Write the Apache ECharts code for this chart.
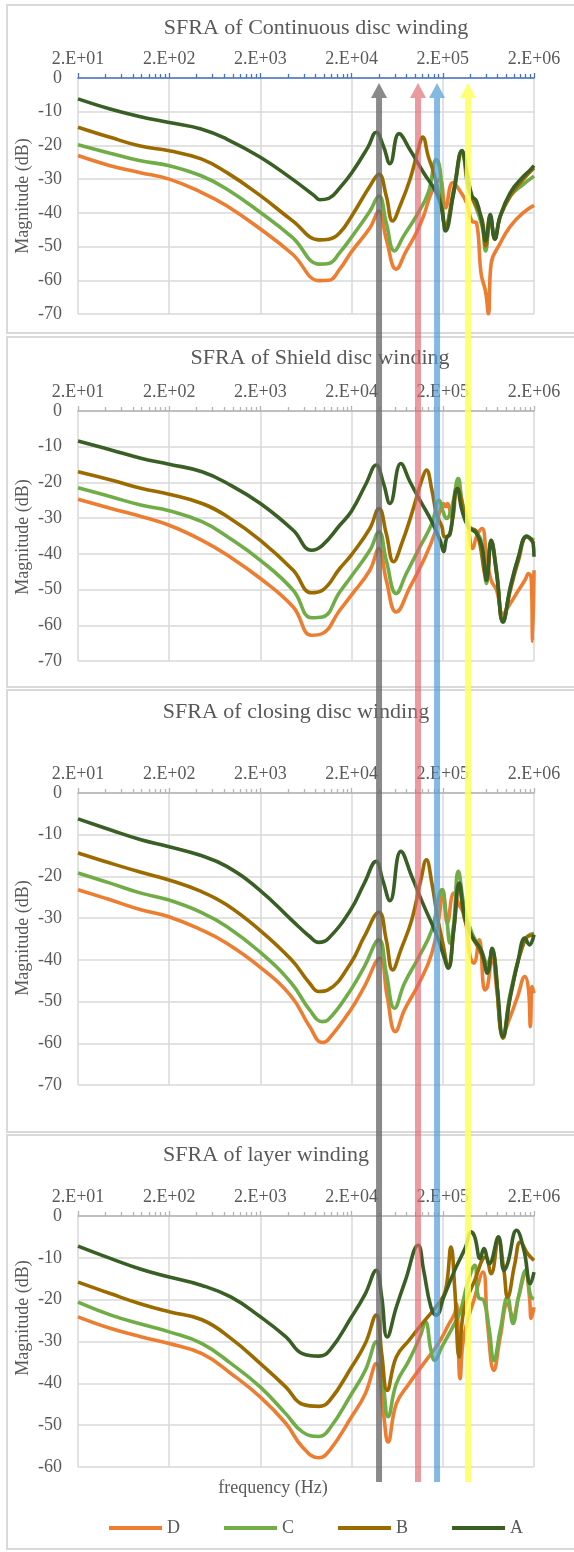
<!DOCTYPE html>
<html><head><meta charset="utf-8">
<script src="https://cdn.jsdelivr.net/npm/echarts@6/dist/echarts.min.js"></script>
<style>html,body{margin:0;padding:0;background:#fff}#c{width:574px;height:1552px}</style>
</head><body><div id="c"></div>
<script>
const panelTitles = ['SFRA of Continuous disc winding','SFRA of Shield disc winding','SFRA of closing disc winding','SFRA of layer winding'];
const seriesNames = ['D','C','B','A'];
const seriesColors = ['#ED7D31','#70AD47','#9C6B00','#3A5F24'];
const majorTicks = [20,200,2000,20000,200000,2000000];
const tickLabels = ['2.E+01','2.E+02','2.E+03','2.E+04','2.E+05','2.E+06'];
const minorTicks = [40,60,80,100,120,140,160,180,400,600,800,1000,1200,1400,1600,1800,4000,6000,8000,10000,12000,14000,16000,18000,40000,60000,80000,100000,120000,140000,160000,180000,400000,600000,800000,1000000,1200000,1400000,1600000,1800000];
const yMins = [-70,-70,-70,-60];
const yTicksInterval = 10;
const yAxisName = 'Magnitude (dB)';
const xAxisName = 'frequency (Hz)';
const markerFreqs = [40000,107000,173000,378000];

// Continuous disc winding
const cont_D = [[20,-23],[45,-26],[94,-28],[200,-30],[448,-33.9],[853,-37.9],[2000,-44.8],[4480,-52.2],[8930,-60.1],[11250,-60],[14830,-56.7],[20000,-51.5],[31700,-44.5],[39900,-39.5],[47980,-47.8],[61800,-56.7],[77800,-51.8],[102600,-45.9],[123300,-40.9],[144900,-35],[170200,-31],[186700,-30],[214300,-38.5],[257600,-31],[317000,-34],[364000,-37],[417900,-42.5],[468800,-43],[526000,-58],[590200,-63.5],[632500,-70],[677700,-55],[853100,-49],[1099000,-44],[1517000,-40],[2000000,-37.8]];
const cont_C = [[20,-19.8],[45,-22.3],[94,-24.5],[200,-26],[448,-29],[853,-32.9],[2000,-39.9],[4480,-47.3],[8930,-55.2],[11250,-55],[14830,-51.8],[20000,-47.2],[31700,-39.5],[39900,-35],[47980,-42.9],[59020,-51.3],[74300,-46.9],[102600,-40.9],[138400,-34.1],[170200,-24.2],[186700,-27.2],[214300,-43.9],[263600,-34],[324400,-22.2],[381200,-33],[427600,-36],[538300,-43.9],[590200,-51.3],[662300,-41.9],[743100,-46.9],[853100,-41],[1099000,-35],[1517000,-31.6],[2000000,-29.1]];
const cont_B = [[20,-14.6],[45,-17.6],[94,-20.1],[200,-21.6],[448,-24],[853,-28],[2000,-34.9],[4480,-42.3],[8930,-48],[11250,-47.8],[14830,-45.9],[20000,-41],[31700,-32.1],[39900,-28.6],[47980,-35],[56370,-42.4],[67760,-38],[87300,-30.1],[107400,-21.3],[120500,-17.5],[138400,-23.2],[158900,-28.1],[186700,-36],[214300,-43.9],[263600,-33],[324400,-21.8],[381200,-32],[427600,-36],[538300,-41.9],[590200,-49.8],[662300,-41],[743100,-47.8],[853100,-41],[1099000,-35],[1517000,-30.1],[2000000,-26.7]];
const cont_A = [[20,-6.2],[45,-9.2],[94,-11.4],[200,-13.2],[448,-15.1],[853,-18.1],[2000,-23.5],[4480,-30],[7780,-34.9],[8930,-36.1],[11250,-35.7],[14830,-32.6],[20000,-28.2],[30270,-20.5],[37240,-16.1],[44770,-20.3],[52610,-25.4],[66220,-16.5],[87300,-21.3],[123300,-28.1],[170200,-34.1],[195500,-39],[214300,-45.4],[263600,-34],[324400,-21.5],[364000,-27.2],[417900,-35],[468800,-36.5],[538300,-42.9],[590200,-48.3],[662300,-40.5],[743100,-47.8],[853100,-41],[1099000,-34],[1517000,-29.3],[1824000,-27.2],[2000000,-26]];

// Shield disc winding
const shield_D = [[20,-24.7],[46,-27.3],[100,-29.6],[200,-32],[458,-36.2],[873,-40.4],[2000,-46.9],[4580,-54.9],[7260,-62.8],[9570,-62.3],[14830,-55.8],[20000,-51.5],[31700,-44.6],[39900,-38.5],[47980,-47.4],[61800,-56.3],[87300,-49.3],[123300,-41.8],[162600,-34.3],[186700,-27.8],[204700,-25.9],[214300,-26.8],[224400,-25.9],[251800,-30.1],[289100,-20.5],[324400,-25.9],[364000,-29.6],[427600,-38.5],[468800,-35.2],[538300,-32.9],[604000,-40.8],[677700,-47.4],[778000,-50.2],[914100,-56.7],[1099000,-53.9],[1352000,-50.2],[1589000,-47.4],[1742000,-45.5],[1867000,-47],[1930000,-64.5],[2000000,-44.6]];
const shield_C = [[20,-21.5],[46,-24],[100,-26.4],[200,-27.9],[458,-31],[873,-35.2],[2000,-41.8],[4580,-50.2],[7260,-57.9],[9570,-57.7],[14830,-50.7],[20000,-46.2],[31700,-39],[39900,-33.8],[47980,-41.8],[61800,-51.1],[79620,-45.5],[112500,-38],[151700,-31.5],[182400,-25],[204700,-28.7],[219300,-30.1],[251800,-26.8],[295800,-18.9],[324400,-25],[381200,-32],[468800,-33.8],[538300,-37.1],[604000,-48.3],[677700,-36.2],[778000,-44.6],[914100,-59.1],[1099000,-49.7],[1352000,-40.8],[1664000,-35.2],[2000000,-36.2]];
const shield_B = [[20,-17],[46,-19.3],[100,-21.7],[200,-23.3],[458,-25.9],[873,-29.6],[2000,-36.2],[4580,-44.6],[7260,-50.9],[9570,-50.2],[14830,-44.1],[20000,-40.2],[31700,-32.9],[39900,-27.3],[47980,-34.3],[57680,-42.2],[70950,-37.1],[91420,-28.7],[117800,-19.3],[132100,-16.5],[151700,-22.1],[170200,-28.7],[195500,-32.4],[209400,-35.2],[240400,-34.3],[289100,-21.7],[381200,-32.4],[468800,-33.8],[604000,-46.5],[677700,-36.7],[778000,-45.5],[914100,-58.6],[1099000,-50.2],[1352000,-41.8],[1664000,-35.2],[2000000,-37.1]];
const shield_A = [[20,-8.4],[46,-10.9],[100,-13.3],[200,-14.9],[458,-17],[873,-20.3],[2000,-25.9],[4580,-33.4],[7260,-39],[9570,-37.6],[14830,-32],[20000,-28],[28910,-20.3],[37240,-15.1],[44770,-20.3],[52610,-25.9],[69340,-14.7],[87300,-19.8],[112500,-25],[151700,-31],[186700,-36.2],[204700,-39.4],[219300,-35.7],[240400,-34.3],[289100,-21.7],[324400,-27.8],[381200,-32.4],[468800,-34.3],[538300,-38],[604000,-47.4],[677700,-36.2],[778000,-45.5],[914100,-59.1],[1099000,-49.3],[1352000,-40.8],[1664000,-35],[1867000,-36],[1954000,-37],[2000000,-40.8]];

// closing disc winding
const closing_D = [[20,-23.2],[45,-25.6],[98,-28],[195,-29.6],[448,-32.8],[853,-36],[1950,-41.6],[4380,-48.8],[6930,-56],[9570,-59.8],[11000,-59.2],[19550,-52],[27610,-46.4],[40830,-39.6],[49100,-48.8],[60400,-57.2],[76030,-52],[109900,-45.6],[151700,-38.4],[182400,-29.6],[200000,-23.2],[224400,-31.2],[263600,-24],[295800,-26.4],[347600,-29.6],[399000,-39.2],[437600,-40.8],[502400,-35.2],[576800,-47.2],[618000,-46.4],[693500,-39.2],[796200,-48.8],[914100,-57.6],[1099000,-53.6],[1321000,-48.8],[1589000,-44],[1742000,-47.2],[1824000,-56],[1910000,-46.4],[2000000,-48]];
const closing_C = [[20,-19.2],[45,-21.6],[98,-24],[195,-25.6],[448,-28.6],[853,-32],[1950,-38],[4380,-45.6],[6930,-52],[9570,-54.8],[11000,-54.4],[19550,-47.2],[27610,-41.6],[39900,-35.2],[48000,-43.2],[59020,-51.6],[76030,-45.6],[109900,-39.2],[151700,-32.8],[195500,-23.2],[219300,-29.6],[240400,-36],[263600,-31.2],[295800,-18.8],[347600,-28],[417900,-33.6],[526000,-37.6],[618000,-40.8],[693500,-38.4],[914100,-58.4],[1099000,-48],[1589000,-35.2],[2000000,-33.6]];
const closing_B = [[20,-14.4],[45,-16.8],[98,-19],[195,-20.8],[448,-23.6],[853,-26.8],[1950,-32.8],[4380,-40],[6930,-45.6],[8730,-47.6],[11000,-47.2],[19550,-40.8],[27610,-34.4],[39900,-28.6],[47980,-35.2],[56370,-42.4],[69340,-37.6],[91420,-30.4],[115100,-20.8],[132100,-16],[151700,-21.6],[174200,-29.6],[200000,-36],[229600,-41.6],[263600,-32.8],[302700,-22.4],[347600,-30.4],[417900,-34.4],[526000,-38.4],[618000,-42.4],[693500,-37.6],[914100,-58.8],[1099000,-48.8],[1589000,-35.2],[2000000,-34]];
const closing_A = [[20,-6.2],[45,-8.8],[98,-11.2],[195,-12.8],[448,-15],[853,-17.6],[1950,-23.2],[4380,-30.4],[6930,-34.4],[8730,-35.8],[11000,-35],[19550,-28],[27610,-21.6],[37240,-16.4],[43760,-20.8],[52610,-25.8],[69340,-14],[91420,-20],[120500,-26.4],[174200,-34.4],[200000,-38.4],[229600,-42],[263600,-32.8],[302700,-21.6],[347600,-29.6],[417900,-34.4],[526000,-37.6],[618000,-43.2],[693500,-37.2],[796200,-47.2],[914100,-58.4],[1099000,-48.8],[1321000,-40.8],[1589000,-34.8],[1783000,-36.4],[2000000,-34]];

// layer winding
const layer_D = [[20,-24.1],[46,-26.9],[100,-28.9],[200,-30.5],[458,-32.9],[957,-37.7],[2000,-43.3],[3810,-49.6],[5770,-55.2],[8730,-57.8],[11510,-56],[20000,-48],[28250,-42.5],[37240,-35.3],[44770,-47.3],[50240,-54],[61800,-44.9],[85310,-40.1],[123300,-35.3],[178300,-30.5],[235000,-25.7],[269800,-23.3],[282500,-21],[309800,-38.9],[339700,-28.9],[447700,-19.4],[550800,-13.4],[618000,-25.7],[726100,-36.9],[853100,-28.9],[1025600,-21],[1177600,-24.1],[1352000,-19.4],[1626000,-13.8],[1783000,-19.4],[1867000,-24.5],[2000000,-21.8]];
const layer_C = [[20,-20.6],[46,-23.7],[100,-25.9],[200,-27.7],[458,-30.5],[957,-35.3],[2000,-40.9],[3810,-47.3],[5770,-51.6],[8730,-52.7],[11510,-50.8],[20000,-42.5],[28250,-36.9],[37240,-30.1],[44770,-40.9],[50240,-48],[61800,-40.1],[85310,-34.5],[112500,-28.9],[129100,-25.3],[148300,-32.1],[162600,-34.5],[195500,-31.3],[257600,-26.5],[309800,-22.9],[372500,-16.2],[447700,-11.8],[491000,-19.4],[563700,-20.2],[647200,-27.3],[726100,-34.5],[853100,-27.3],[1025600,-19.4],[1177600,-25.7],[1352000,-19.4],[1626000,-13],[1783000,-17.8],[1867000,-19.4],[2000000,-19.8]];
const layer_B = [[20,-15.8],[46,-18.6],[100,-21.1],[200,-22.9],[458,-24.8],[957,-29.3],[2000,-35.3],[3810,-40.9],[5770,-45],[8730,-45.5],[11510,-44.1],[20000,-36.1],[28250,-30.5],[37240,-23.7],[42760,-32.9],[49100,-41.7],[61800,-33.7],[85310,-29.7],[123300,-25.3],[178300,-21],[214300,-17.8],[246100,-7.4],[269800,-17],[302700,-33.7],[339700,-22.5],[447700,-15.4],[590200,-9.8],[677700,-13.8],[814700,-5.8],[935400,-13],[1025600,-19.4],[1233000,-11.4],[1416000,-6.2],[1703000,-9],[2000000,-10.6]];
const layer_A = [[20,-7.2],[46,-10.2],[100,-12.8],[200,-14.6],[458,-16.6],[957,-19.4],[2000,-24.1],[3810,-28.9],[5770,-32.9],[8730,-33.5],[11510,-32.1],[20000,-24.1],[28250,-18.6],[37240,-13],[42760,-19.4],[49100,-28.9],[61800,-21.8],[77800,-15.4],[107400,-7],[123300,-13],[148300,-21.8],[170200,-23.7],[204700,-19.4],[269800,-13],[355700,-7.4],[408400,-3.8],[447700,-5],[514000,-10.2],[563700,-7.8],[647200,-11.4],[814700,-5],[935400,-13],[1025600,-11.4],[1291000,-3.4],[1552000,-8.2],[1824000,-16.2],[2000000,-13.4]];

const panelData = [
  [cont_D, cont_C, cont_B, cont_A],
  [shield_D, shield_C, shield_B, shield_A],
  [closing_D, closing_C, closing_B, closing_A],
  [layer_D, layer_C, layer_B, layer_A]
];

// ---- layout (pixels) ----
const gridTops = [78, 411, 793, 1216];
const gridHeights = [236, 250, 292, 251];
const titlePos = [[316, 28], [320, 358], [296, 712], [266, 1155]];
const yNamePos = [[23, 196], [23, 537], [23, 938], [23, 1318]];
const framePos = [[7, 5, 570, 328], [7, 337, 570, 350], [7, 690, 570, 442], [7, 1135, 570, 414]];
const FONT = '"Liberation Serif", "Times New Roman", serif';
const TXT = '#595959';
const GRIDC = '#d9d9d9';
const markerColors = ['rgba(105,105,105,0.78)', 'rgba(224,100,108,0.65)', 'rgba(84,158,218,0.72)', 'rgba(255,255,90,0.85)'];

function fmtFreq(v) {
  let best = 0;
  for (let i = 1; i < majorTicks.length; i++) {
    if (Math.abs(Math.log10(v / majorTicks[i])) < Math.abs(Math.log10(v / majorTicks[best]))) best = i;
  }
  return tickLabels[best];
}

const grids = [], xAxes = [], yAxes = [], series = [];
for (let p = 0; p < 4; p++) {
  grids.push({ left: 78, width: 456, top: gridTops[p], height: gridHeights[p] });
  const axisColor = p === 0 ? '#4472C4' : '#b4b4b4';
  xAxes.push({
    type: 'log', logBase: 10, min: 20, max: 2000000, gridIndex: p, position: 'top',
    axisLine: { show: true, onZero: false, lineStyle: { color: axisColor, width: 1.5 } },
    axisTick: { show: true, inside: false, length: 5, customValues: majorTicks, lineStyle: { color: axisColor, width: 1.3 } },
    axisLabel: { show: true, customValues: majorTicks, formatter: fmtFreq, fontSize: 18, fontFamily: FONT, color: TXT, margin: 10 },
    splitLine: { show: true, lineStyle: { color: GRIDC, width: 1.5 } },
    minorTick: { show: false }, minorSplitLine: { show: false }
  });
  xAxes.push({
    type: 'log', logBase: 10, min: 20, max: 2000000, gridIndex: p, position: 'top',
    axisLine: { show: false, onZero: false },
    axisTick: { show: true, inside: false, length: 4, customValues: minorTicks, lineStyle: { color: axisColor, width: 1.3 } },
    axisLabel: { show: false },
    splitLine: { show: false }
  });
  yAxes.push({
    type: 'value', gridIndex: p, min: yMins[p], max: 0, interval: yTicksInterval,
    axisLine: { show: false }, axisTick: { show: false },
    axisLabel: { fontSize: 18, fontFamily: FONT, color: TXT, margin: 16 },
    splitLine: { show: true, lineStyle: { color: GRIDC, width: 1.5 } }
  });
  for (let s = 0; s < 4; s++) {
    series.push({
      type: 'line', name: seriesNames[s], xAxisIndex: 2 * p, yAxisIndex: p,
      data: panelData[p][s], showSymbol: false, symbol: 'none', smooth: 0.45,
      lineStyle: { width: 3.6, color: seriesColors[s] }, itemStyle: { color: seriesColors[s] },
      z: 3 + s
    });
  }
}

const chart = echarts.init(document.getElementById('c'), null, { renderer: 'canvas' });
chart.setOption({
  animation: false,
  backgroundColor: '#ffffff',
  grid: grids, xAxis: xAxes, yAxis: yAxes, series: series,
  legend: {
    data: seriesNames, left: 104, top: 1514, itemWidth: 53, itemHeight: 4, itemGap: 44, icon: 'rect',
    textStyle: { fontSize: 18, fontFamily: FONT, color: TXT }
  }
});

const els = [];
for (let p = 0; p < 4; p++) {
  const f = framePos[p];
  els.push({ type: 'rect', shape: { x: f[0], y: f[1], width: f[2], height: f[3] }, style: { fill: 'none', stroke: GRIDC, lineWidth: 2 }, z: 0, silent: true });
  els.push({ type: 'text', x: titlePos[p][0], y: titlePos[p][1], style: { text: panelTitles[p], fontSize: 22, fontFamily: FONT, fill: TXT, align: 'center', verticalAlign: 'middle' }, z: 10 });
  els.push({ type: 'text', x: yNamePos[p][0], y: yNamePos[p][1], rotation: Math.PI / 2, style: { text: yAxisName, fontSize: 18, fontFamily: FONT, fill: TXT, align: 'center', verticalAlign: 'middle' }, z: 10 });
}
els.push({ type: 'text', x: 273, y: 1488, style: { text: xAxisName, fontSize: 18, fontFamily: FONT, fill: TXT, align: 'center', verticalAlign: 'middle' }, z: 10 });
markerFreqs.forEach((fq, i) => {
  const x = chart.convertToPixel({ xAxisIndex: 0 }, fq);
  els.push({ type: 'rect', shape: { x: x - 3, y: 98, width: 6, height: 1482 - 98 }, style: { fill: markerColors[i] }, z: 100, silent: true });
  els.push({ type: 'polygon', shape: { points: [[x, 83], [x - 8, 98], [x + 8, 98]] }, style: { fill: markerColors[i] }, z: 100, silent: true });
});
chart.setOption({ graphic: { elements: els } });
</script>
</body></html>
